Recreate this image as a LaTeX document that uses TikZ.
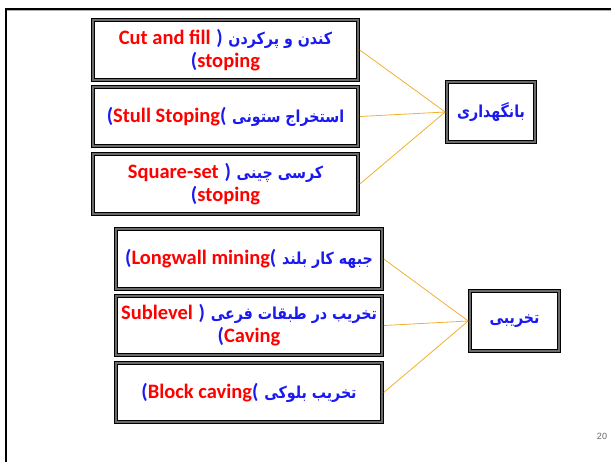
\documentclass[tikz,border=0pt]{standalone}
\usepackage{fontspec}
\TeXXeTstate=1
\newfontfamily\arabicfont[Script=Arabic, FakeStretch=0.86]{DejaVu Sans}
\newfontfamily\enfont{Carlito}
\newfontfamily\numfont{Liberation Sans}
\definecolor{txtblue}{HTML}{1A1AF0}
\definecolor{txtred}{HTML}{FF0000}
\definecolor{linkorange}{HTML}{F0B030}
\definecolor{bandgray}{HTML}{6A6A6A}
% Persian words (right to left), English names and brackets
\newcommand\fa[1]{{\arabicfont\bfseries\fontsize{16.5}{23}\selectfont\color{txtblue}\beginR #1\endR}}
\newcommand\en[1]{{\enfont\bfseries\color{txtred}#1}}
\newcommand\pp[1]{{\enfont\bfseries\color{txtblue}#1}}
% a bracket boxed on its own, set just before a Persian run
% (the bidi pass mirrors it, so the opposite bracket is given)
\newcommand\bk[1]{\hbox{\pp{#1}}}
\newcommand\gap{\hspace{0.28em}}
\tikzset{
  methodbox/.style={draw=black, line width=3.6pt, fill=white,
    postaction={draw=bandgray, line width=2pt},
    minimum width=265pt, minimum height=60pt, inner sep=0pt,
    align=center, font=\enfont\bfseries\fontsize{20.5}{23}\selectfont},
  groupbox/.style={methodbox, minimum width=88pt},
  link/.style={draw=linkorange, line width=0.8pt}
}
\begin{document}
\begin{tikzpicture}[x=1pt, y=-1pt]
\useasboundingbox (0,0) rectangle (611,461);
% slide frame
\draw[gray!60, line width=0.8pt] (6.5,462) -- (6.5,10.5) -- (612,10.5);
\draw[black, line width=2pt] (6,462) -- (6,9) -- (612,9);

% supported stoping methods
\node[methodbox] (cf) at (225.5,50) {\en{Cut and fill}\gap\bk{)}\gap\fa{کندن و پرکردن}\\\pp{(}\en{stoping}};
\node[methodbox, minimum height=59pt] (st) at (225.5,116.5) {\pp{(}\en{Stull Stoping}\bk{(}\gap\fa{استخراج ستونی}};
\node[methodbox] (sq) at (225.5,184) {\en{Square-set}\gap\bk{)}\gap\fa{کرسی چینی}\\\pp{(}\en{stoping}};

% caving methods
\node[methodbox, minimum width=266pt] (lw) at (249,259) {\pp{(}\en{Longwall mining}\bk{(}\gap\fa{جبهه کار بلند}};
\node[methodbox, minimum width=266pt, minimum height=59pt] (sl) at (249,325.5) {\en{Sublevel}\gap\bk{)}\gap\fa{تخریب در طبقات فرعی}\\\pp{(}\en{Caving}};
\node[methodbox, minimum width=266pt, minimum height=59pt] (bc) at (249,392.5) {\pp{(}\en{Block caving}\bk{(}\gap\fa{تخریب بلوکی}};

% group heads
\node[groupbox] (g1) at (491,112) {\fa{بانگهداری}};
\node[groupbox, minimum width=89pt] (g2) at (514.5,321) {\fa{تخریبی}};

% connectors
\foreach \b in {cf,st,sq} \draw[link] (\b.east) -- (g1.west);
\foreach \b in {lw,sl,bc} \draw[link] (\b.east) -- (g2.west);

% page number
\node[font=\numfont\fontsize{9}{10}\selectfont, text=gray!80!black] (pg) at (602,436) {20};
\end{tikzpicture}
\end{document}
